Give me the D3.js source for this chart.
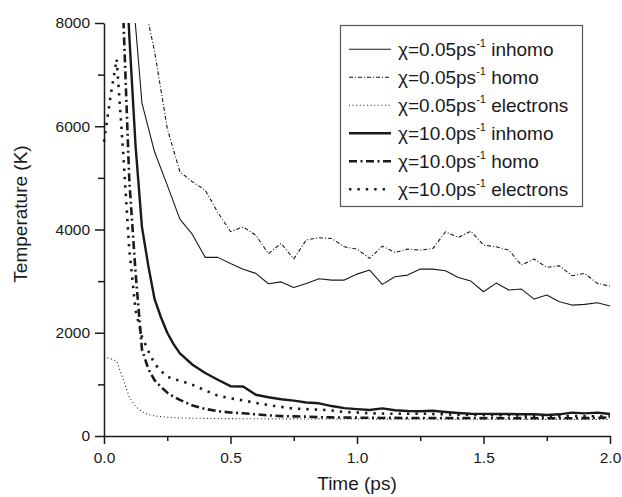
<!DOCTYPE html>
<html>
<head>
<meta charset="utf-8">
<script src="https://cdn.jsdelivr.net/npm/d3@7"></script>
<style>
  body { margin: 0; background: #fff; }
  svg { display: block; }
  text { font-family: "Liberation Sans", Arial, sans-serif; fill: #1a1a1a; }
</style>
</head>
<body>
<script>
// Time grid (ps): finer steps at the start, then 0.05 ps
const times = [0, 0.025, 0.05, 0.075, 0.1, 0.125, 0.15, 0.175, 0.2, 0.225, 0.25, 0.275, 0.3,
  0.35, 0.4, 0.45, 0.5, 0.55, 0.6, 0.65, 0.7, 0.75, 0.8, 0.85, 0.9, 0.95, 1.0,
  1.05, 1.1, 1.15, 1.2, 1.25, 1.3, 1.35, 1.4, 1.45, 1.5, 1.55, 1.6, 1.65, 1.7,
  1.75, 1.8, 1.85, 1.9, 1.95, 2.0];

// Temperatures (K), null = no sample at that time
const inhomo005 = [null, null, 12500, null, 9400, null, 6450, null, 5500, null, 4860, null, 4200,
  3900, 3460, 3460, 3340, 3230, 3150, 2950, 2985, 2875, 2955, 3045, 3020, 3020, 3136,
  3214, 2937, 3085, 3117, 3233, 3233, 3201, 3072, 3001, 2794, 2962, 2827, 2846, 2652,
  2730, 2600, 2536, 2550, 2581, 2517];
const homo005 = [null, null, null, null, null, null, 8600, null, 7450, null, 5960, null, 5117,
  4923, 4763, 4330, 3960, 4050, 3890, 3530, 3731, 3430, 3800, 3840, 3827, 3665, 3620,
  3440, 3678, 3556, 3620, 3601, 3633, 3956, 3846, 3969, 3698, 3665, 3601, 3311, 3427,
  3266, 3298, 3104, 3150, 2956, 2904];
const electrons005 = [1530, 1500, 1450, 1110, 750, 570, 470, 415, 390, 375, 362, 355, 350,
  345, 341, 338, 336, 334, 335, 332, 333, 331, 330, 331, 329, 330, 328,
  329, 327, 328, 326, 327, 325, 326, 324, 325, 323, 324, 323, 322, 323,
  321, 322, 321, 320, 321, 320];
const inhomo10 = [null, null, 13000, null, 7750, 5600, 4050, 3300, 2650, 2300, 2000, 1780, 1600,
  1380, 1220, 1090, 965, 960, 800, 750, 712, 685, 650, 633, 580, 540, 520,
  503, 536, 500, 485, 480, 490, 465, 445, 430, 428, 426, 426, 420, 420,
  407, 420, 452, 439, 452, 426];
const homo10 = [null, null, 12000, 8300, 4950, 3150, 1680, 1300, 1080, 950, 840, 760, 700,
  590, 525, 480, 455, 440, 420, 400, 385, 380, 375, 365, 360, 358, 355,
  352, 350, 352, 348, 350, 347, 349, 346, 348, 345, 347, 344, 346, 345,
  343, 345, 344, 346, 350, 360];
const electrons10 = [5700, 6550, 7300, 5550, 3600, 2430, 1920, 1650, 1400, 1260, 1150, 1100, 1075,
  990, 885, 780, 730, 690, 640, 600, 565, 530, 520, 510, 495, 465, 455,
  440, 435, 430, 430, 435, 425, 420, 415, 410, 405, 400, 405, 395, 390,
  395, 385, 390, 380, 385, 380];

const rates = ["0.05", "0.05", "0.05", "10.0", "10.0", "10.0"];
const kinds = ["inhomo", "homo", "electrons", "inhomo", "homo", "electrons"];
const xMajor = [0, 0.5, 1.0, 1.5, 2.0];
const xMinor = [0.25, 0.75, 1.25, 1.75];
const yMajor = [0, 2000, 4000, 6000, 8000];
const yMinor = [1000, 3000, 5000, 7000];

const series = [
  { values: inhomo005, width: 1.1, dash: null, cap: "butt" },
  { values: homo005, width: 1.1, dash: "4,2,1,2", cap: "butt" },
  { values: electrons005, width: 1.1, dash: "1,2.6", cap: "butt" },
  { values: inhomo10, width: 2.4, dash: null, cap: "butt" },
  { values: homo10, width: 2.6, dash: "8,3.5,2,3.5", cap: "butt" },
  { values: electrons10, width: 2.6, dash: "2.4,6", cap: "butt" }
];

const W = 622, H = 497;
const plot = { left: 104, right: 610, top: 23, bottom: 436 };

const svg = d3.select("body").append("svg")
  .attr("width", W)
  .attr("height", H);

const x = d3.scaleLinear().domain([0, 2]).range([plot.left, plot.right]);
const y = d3.scaleLinear().domain([0, 8000]).range([plot.bottom, plot.top]);

svg.append("clipPath").attr("id", "clip")
  .append("rect")
  .attr("x", plot.left - 3).attr("y", plot.top)
  .attr("width", plot.right - plot.left + 6)
  .attr("height", plot.bottom - plot.top);

// Lines
const line = d3.line().x(d => x(d.t)).y(d => y(d.v));
const lines = svg.append("g").attr("clip-path", "url(#clip)");
series.forEach(s => {
  const pts = times.map((t, i) => ({ t: t, v: s.values[i] })).filter(d => d.v != null);
  lines.append("path")
    .datum(pts)
    .attr("d", line)
    .attr("fill", "none")
    .attr("stroke", "#1a1a1a")
    .attr("stroke-width", s.width)
    .attr("stroke-dasharray", s.dash)
    .attr("stroke-linecap", s.cap)
    .attr("stroke-linejoin", "round");
});

// Axes
function styleAxis(g) {
  g.attr("font-family", null).attr("font-size", null);
  g.select(".domain").attr("stroke", "#1a1a1a").attr("stroke-width", 1.5);
  g.selectAll(".tick line").attr("stroke", "#1a1a1a").attr("stroke-width", 1.5);
  g.selectAll(".tick text").style("font-size", "15.5px").attr("fill", "#1a1a1a");
}

svg.append("g")
  .attr("transform", `translate(${plot.left},0)`)
  .call(d3.axisLeft(y).tickValues(yMajor).tickSize(9).tickSizeOuter(0).tickPadding(5).tickFormat(d3.format("d")))
  .call(styleAxis);
svg.append("g")
  .attr("transform", `translate(${plot.left},0)`)
  .call(d3.axisLeft(y).tickValues(yMinor).tickSize(6).tickFormat(""))
  .call(styleAxis)
  .call(g => g.select(".domain").remove());

svg.append("g")
  .attr("transform", `translate(0,${plot.bottom})`)
  .call(d3.axisBottom(x).tickValues(xMajor).tickSize(8).tickSizeOuter(0).tickPadding(7.5).tickFormat(d3.format(".1f")))
  .call(styleAxis);
svg.append("g")
  .attr("transform", `translate(0,${plot.bottom})`)
  .call(d3.axisBottom(x).tickValues(xMinor).tickSize(5).tickFormat(""))
  .call(styleAxis)
  .call(g => g.select(".domain").remove());

// Axis titles
svg.append("text")
  .attr("x", (plot.left + plot.right) / 2)
  .attr("y", 490)
  .attr("text-anchor", "middle")
  .style("font-size", "19px")
  .text("Time (ps)");

svg.append("text")
  .attr("transform", "translate(27,214) rotate(-90)")
  .attr("text-anchor", "middle")
  .style("font-size", "19px")
  .text("Temperature (K)");

// Legend
const legend = svg.append("g");
legend.append("rect")
  .attr("x", 340.5).attr("y", 25.5)
  .attr("width", 242).attr("height", 181)
  .attr("fill", "#fff")
  .attr("stroke", "#555")
  .attr("stroke-width", 1.2);

const rows = legend.selectAll(".row")
  .data(series)
  .enter()
  .append("g")
  .attr("class", "row")
  .attr("transform", (d, i) => `translate(0,${49.3 + i * 28})`);

rows.append("line")
  .attr("x1", 349).attr("x2", 391)
  .attr("stroke", "#1a1a1a")
  .attr("stroke-width", d => d.width)
  .attr("stroke-dasharray", d => d.dash)
  .attr("stroke-linecap", d => d.cap);

const label = rows.append("text")
  .attr("x", 398)
  .attr("y", 6.7)
  .style("font-size", "19px");
label.append("tspan").text((d, i) => `χ=${rates[i]}ps`);
label.append("tspan").attr("dy", -9).style("font-size", "11px").text("-1");
label.append("tspan").attr("dy", 9).text((d, i) => ` ${kinds[i]}`);
</script>
</body>
</html>
